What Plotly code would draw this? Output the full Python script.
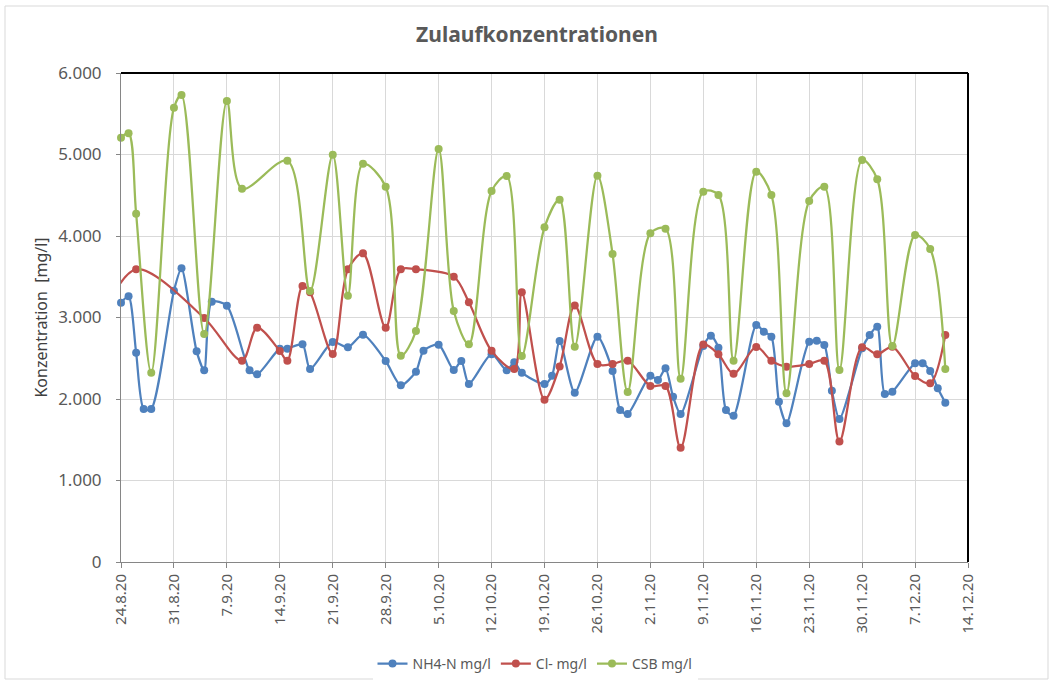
import plotly.graph_objects as go
from datetime import date, timedelta

BASE = date(2020, 8, 24)

def to_dates(days):
    return [(BASE + timedelta(days=d)).isoformat() for d in days]

# NH4-N mg/l
nh4_days = [0, 1, 2, 3, 4, 7, 8, 10, 11, 12, 14, 17, 18, 21, 22, 24, 25, 28, 30, 32,
            35, 37, 39, 40, 42, 44, 45, 46, 49, 51, 52, 53, 56, 57, 58, 60, 63, 65, 66, 67,
            70, 71, 72, 73, 74, 77, 78, 79, 80, 81, 84, 85, 86, 87, 88, 91, 92, 93, 94, 95,
            98, 99, 100, 101, 102, 105, 106, 107, 108, 109]
nh4_vals = [3182, 3260, 2568, 1877, 1877, 3329, 3603, 2585, 2352, 3194, 3145, 2352, 2303, 2618, 2618, 2671, 2368, 2700, 2634, 2789,
            2466, 2168, 2335, 2593, 2667, 2356, 2466, 2184, 2550, 2352, 2450, 2323, 2184, 2286, 2712, 2078, 2765, 2344, 1865, 1816,
            2286, 2233, 2376, 2029, 1816, 2650, 2777, 2630, 1865, 1795, 2908, 2826, 2765, 1967, 1702, 2703, 2716, 2663, 2102, 1755,
            2622, 2785, 2888, 2061, 2090, 2438, 2438, 2344, 2131, 1955]

# Cl- mg/l (first point lies before the axis start and is clipped)
cl_days = [-3, 2, 11, 16, 18, 21, 22, 24, 25, 28, 30, 32, 35, 37, 39, 44, 46, 49, 52, 53,
           56, 58, 60, 63, 65, 67, 70, 72, 74, 77, 79, 81, 84, 86, 88, 91, 93, 95, 98, 100,
           102, 105, 107, 109]
cl_vals = [2900, 3591, 2994, 2470, 2875, 2589, 2470, 3387, 3309, 2552, 3591, 3787, 2875, 3591, 3591, 3501, 3186, 2591, 2368, 3309,
           1992, 2400, 3147, 2429, 2429, 2470, 2160, 2160, 1403, 2668, 2548, 2311, 2638, 2470, 2397, 2429, 2470, 1480, 2634, 2550,
           2640, 2282, 2193, 2785]

# CSB mg/l
csb_days = [0, 1, 2, 4, 7, 8, 11, 14, 16, 22, 25, 28, 30, 32, 35, 37, 39, 42, 44, 46,
            49, 51, 53, 56, 58, 60, 63, 65, 67, 70, 72, 74, 77, 79, 81, 84, 86, 88, 91, 93,
            95, 98, 100, 102, 105, 107, 109]
csb_vals = [5206, 5260, 4274, 2323, 5574, 5730, 2798, 5656, 4580, 4924, 3325, 4996, 3268, 4887, 4605, 2531, 2834, 5067, 3080, 2671,
            4552, 4736, 2528, 4107, 4446, 2642, 4740, 3779, 2086, 4033, 4090, 2249, 4544, 4503, 2470, 4789, 4503, 2070, 4429, 4605,
            2356, 4933, 4696, 2650, 4012, 3840, 2368]

series_names = ["NH4-N mg/l", "Cl- mg/l", "CSB mg/l"]
colors = ["#4F81BD", "#C0504D", "#9BBB59"]

FONT = "Noto Sans"
GRAY = "#595959"

fig = go.Figure()
for name, days, vals, col, clip, smooth in [
    (series_names[0], nh4_days, nh4_vals, colors[0], False, 0.7),
    (series_names[1], cl_days, cl_vals, colors[1], True, 0.9),
    (series_names[2], csb_days, csb_vals, colors[2], False, 0.9),
]:
    fig.add_trace(go.Scatter(
        x=to_dates(days), y=vals, name=name, mode="lines+markers",
        line=dict(color=col, width=2.25, shape="spline", smoothing=smooth),
        marker=dict(color=col, size=8),
        cliponaxis=clip,
    ))

W, H = 1053, 684
L, R, T, B = 121, 968, 73, 562

def px(x):
    return (x - L) / (R - L)

def py(y):
    return (B - y) / (B - T)

fig.update_layout(
    width=W, height=H,
    margin=dict(l=L, r=W - R, t=T, b=H - B, autoexpand=False),
    paper_bgcolor="white", plot_bgcolor="white",
    separators=",.",
    font=dict(family=FONT, color=GRAY, size=13),
    title=dict(text="<b>Zulaufkonzentrationen</b>", x=537 / W, xref="container",
               y=1 - 35 / H, yref="container", xanchor="center", yanchor="middle",
               font=dict(family=FONT, size=21, color=GRAY)),
    showlegend=True,
    legend=dict(orientation="h", x=px(535), y=py(664), xanchor="center", yanchor="middle",
                font=dict(family=FONT, size=14, color=GRAY)),
    xaxis=dict(
        type="date",
        range=["2020-08-24", "2020-12-14"],
        tick0="2020-08-24", dtick=7 * 24 * 3600 * 1000,
        tickformat="%-d.%-m.%y", tickangle=-90,
        showgrid=True, gridcolor="#D9D9D9", gridwidth=1,
        showline=True, linecolor="#868686", linewidth=1,
        ticks="outside", ticklen=5, tickcolor="#868686",
        tickfont=dict(family=FONT, size=15, color=GRAY),
        zeroline=False, automargin=False,
    ),
    yaxis=dict(
        range=[0, 6000], dtick=1000, tickformat=",d",
        showgrid=True, gridcolor="#D9D9D9", gridwidth=1,
        showline=True, linecolor="#868686", linewidth=1,
        ticks="outside", ticklen=4, tickcolor="#868686",
        ticklabelstandoff=11,
        tickfont=dict(family=FONT, size=17, color=GRAY),
        title=dict(text="Konzentration  [mg/l]", font=dict(family=FONT, size=16, color="#404040"), standoff=6),
        zeroline=False, automargin=False,
    ),
    shapes=[
        dict(type="line", xref="paper", yref="paper", x0=0, x1=1, y0=1, y1=1,
             line=dict(color="black", width=2)),
        dict(type="line", xref="paper", yref="paper", x0=1, x1=1, y0=0, y1=1,
             line=dict(color="black", width=2)),
        dict(type="rect", xref="paper", yref="paper", x0=px(5), x1=px(1048), y0=py(679), y1=py(6),
             line=dict(color="#D9D9D9", width=1), layer="below"),
    ],
)

fig.write_html("out.html", config={"displayModeBar": False},
               post_script="document.body.style.margin='0px';")
